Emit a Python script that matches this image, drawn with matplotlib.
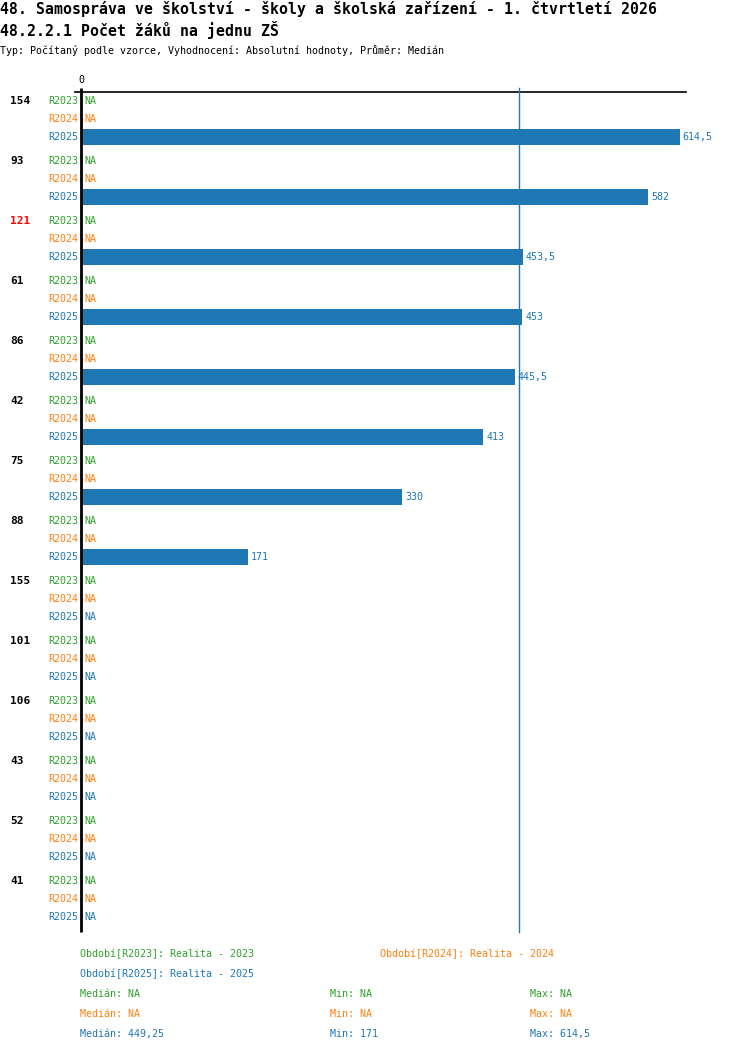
import matplotlib
matplotlib.use("Agg")
import matplotlib.pyplot as plt

# data
groups = ["154", "93", "121", "61", "86", "42", "75", "88", "155", "101", "106", "43", "52", "41"]
highlight = "121"
series = ["R2023", "R2024", "R2025"]
colors = ["#2ca02c", "#ff7f0e", "#1f77b4"]
r2023 = [None] * 14
r2024 = [None] * 14
r2025 = [614.5, 582, 453.5, 453, 445.5, 413, 330, 171, None, None, None, None, None, None]
median_2025 = 449.25
min_2025 = 171
max_2025 = 614.5
legend_names = ["Realita - 2023", "Realita - 2024", "Realita - 2025"]

title1 = "48. Samospráva ve školství - školy a školská zařízení - 1. čtvrtletí 2026"
title2 = "48.2.2.1 Počet žáků na jednu ZŠ"
subtitle = "Typ: Počítaný podle vzorce, Vyhodnocení: Absolutní hodnoty, Průměr: Medián"

W, H = 750, 1052
MONO = "DejaVu Sans Mono"


def fmt(v):
    if v is None:
        return "NA"
    s = ("%g" % v).replace(".", ",")
    return s


def ftext(x, y, s, **kw):
    # place text using pixel coords from top-left
    kw.setdefault("family", MONO)
    kw.setdefault("va", "center")
    fig.text(x / W, 1 - y / H, s, **kw)


fig = plt.figure(figsize=(W / 100, H / 100), dpi=100)
fig.patch.set_facecolor("white")

# axes region in pixels: x 81..686, y 75..932
ax_x0, ax_x1, ax_y0, ax_y1 = 81, 686, 75, 932
ax = fig.add_axes([ax_x0 / W, 1 - ax_y1 / H, (ax_x1 - ax_x0) / W, (ax_y1 - ax_y0) / H])
ax.set_xlim(0, 621)
ax.set_ylim(ax_y1, ax_y0)
ax.axis("off")

data = [r2023, r2024, r2025]
row_step, group_step, first_row = 18, 60, 101

for g, name in enumerate(groups):
    gy = first_row + g * group_step
    ftext(10, gy, name, fontsize=8, weight="bold",
          color="red" if name == highlight else "black", ha="left")
    for s, ser in enumerate(series):
        y = gy + s * row_step
        ftext(78, y, ser, fontsize=7.2, color=colors[s], ha="right")
        v = data[s][g]
        if v is None:
            ftext(84, y, "NA", fontsize=7.2, color=colors[s], ha="left")
        else:
            ax.barh(y, v, height=16, color=colors[s], left=0)
            ax.text(v + 3, y, fmt(v), family=MONO, fontsize=7.2, color=colors[s],
                    va="center", ha="left")

# axis lines
ax.plot([0, 0], [88, ax_y1], color="black", lw=2, clip_on=False, solid_capstyle="butt")
ax.plot([-6.5, 621], [92, 92], color="black", lw=1.2, clip_on=False)
ax.plot([median_2025, median_2025], [88, ax_y1], color=colors[2], lw=1, clip_on=False)
ax.text(0, 80, "0", family=MONO, fontsize=7.2, ha="center", va="center")

# titles
ftext(0, 9, title1, fontsize=10.7, weight="bold", ha="left")
ftext(0, 30, title2, fontsize=10.7, weight="bold", ha="left")
ftext(0, 50, subtitle, fontsize=7.2, ha="left")

# legend
ftext(80, 954, "Období[R2023]: " + legend_names[0], fontsize=7.2, color=colors[0], ha="left")
ftext(380, 954, "Období[R2024]: " + legend_names[1], fontsize=7.2, color=colors[1], ha="left")
ftext(80, 974, "Období[R2025]: " + legend_names[2], fontsize=7.2, color=colors[2], ha="left")

stats = [(None, None, None), (None, None, None), (median_2025, min_2025, max_2025)]
for s, (md, mn, mx) in enumerate(stats):
    y = 994 + 20 * s
    ftext(80, y, "Medián: " + fmt(md), fontsize=7.2, color=colors[s], ha="left")
    ftext(330, y, "Min: " + fmt(mn), fontsize=7.2, color=colors[s], ha="left")
    ftext(530, y, "Max: " + fmt(mx), fontsize=7.2, color=colors[s], ha="left")

fig.savefig("out.png", dpi=100, facecolor="white")
